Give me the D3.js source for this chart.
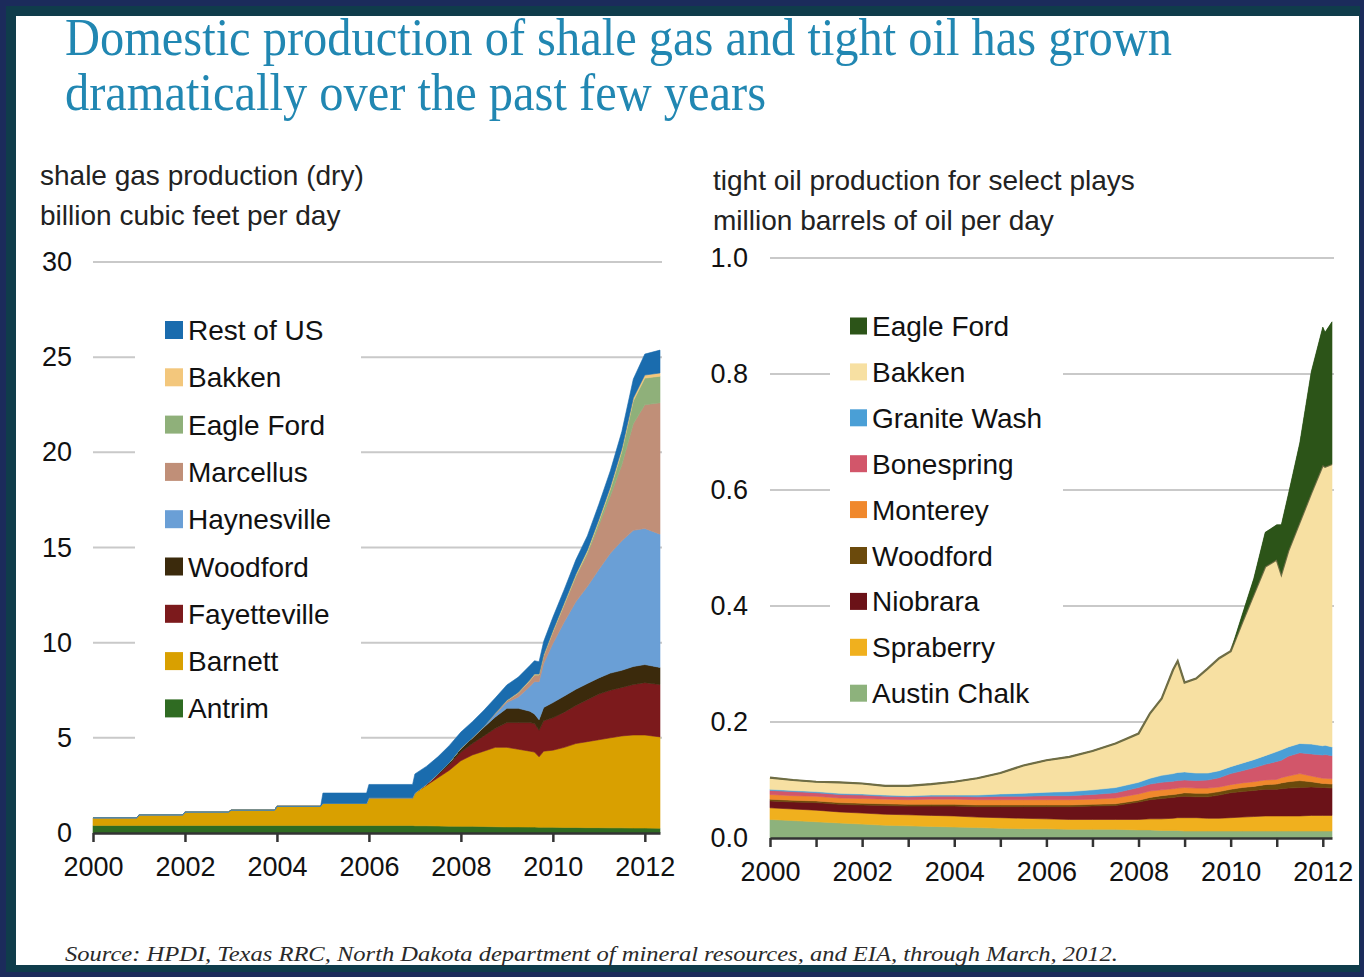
<!DOCTYPE html>
<html><head><meta charset="utf-8">
<script src="https://cdn.jsdelivr.net/npm/d3@7"></script>
<style>body{margin:0;background:#1b2b5b;} svg{display:block}</style>
</head><body><svg id="c" width="1364" height="977"></svg>
<script>
// ---------- Left chart: shale gas (bcf/d) ----------
const gasDates = [2000.0,2000.95,2001.0,2001.95,2002.0,2002.95,2003.0,2003.95,2004.0,2004.95,2005.0,2005.95,2006.0,2006.95,
  2007.0,2007.25,2007.5,2007.75,2008.0,2008.25,2008.5,2008.75,2009.0,2009.25,2009.5,2009.6,2009.7,2009.8,
  2010.0,2010.25,2010.5,2010.75,2011.0,2011.25,2011.5,2011.75,2012.0,2012.33];
const gasKeys = ["Antrim","Barnett","Fayetteville","Woodford","Haynesville","Marcellus","Eagle Ford","Bakken","Rest of US"];
const gasColors = ["#2f6b22","#d9a000","#7c1a1c","#3b2a0c","#6a9fd6","#c08f78","#8fb07a","#f3c77c","#1a6cae"];
const gasAntrim = [.40,.40,.40,.40,.40,.40,.40,.40,.40,.40,.40,.40,.40,.40,.38,.38,.37,.36,.35,.35,.34,.33,.32,.32,.31,.31,.30,.30,.30,.29,.29,.28,.28,.27,.27,.26,.26,.25];
const gasBarnett = [.40,.40,.55,.55,.70,.70,.80,.80,1.00,1.00,1.15,1.15,1.45,1.45,1.72,2.12,2.53,2.94,3.45,3.75,3.96,4.17,4.18,4.08,3.99,3.94,3.70,4.00,4.05,4.21,4.41,4.52,4.62,4.73,4.83,4.89,4.89,4.80];
const gasFayetteville = [0,0,0,0,0,0,0,0,0,0,0,0,0,0,0,.05,.15,.30,.45,.60,.80,1.0,1.3,1.4,1.5,1.5,1.4,1.6,1.7,1.85,2.0,2.2,2.4,2.5,2.55,2.65,2.75,2.75];
const gasWoodford = [0,0,0,0,0,0,0,0,0,0,0,0,0,0,0,0,.05,.10,.20,.30,.45,.60,.75,.75,.60,.50,.55,.70,.80,.85,.85,.85,.85,.90,.90,.95,.95,.90];
const gasHaynesville = [0,0,0,0,0,0,0,0,0,0,0,0,0,0,0,0,0,0,0,0,.05,.15,.30,.60,1.3,1.7,2.0,2.3,3.1,3.9,4.6,5.1,5.7,6.3,6.8,7.15,7.15,7.0];
const gasMarcellus = [0,0,0,0,0,0,0,0,0,0,0,0,0,0,0,0,0,0,0,0,0,.05,.10,.20,.30,.35,.35,.40,.60,.90,1.3,1.7,2.3,3.0,4.0,5.6,6.5,6.9];
const gasEagleFord = [0,0,0,0,0,0,0,0,0,0,0,0,0,0,0,0,0,0,0,0,0,0,0,0,0,0,0,0,0,.02,.05,.10,.20,.35,.70,1.2,1.4,1.4];
const gasBakken = [0,0,0,0,0,0,0,0,0,0,0,0,0,0,0,0,0,0,0,0,0,0,.03,.04,.05,.05,.05,.06,.08,.09,.10,.11,.12,.13,.14,.15,.16,.17];
const gasRest = [0,0,0,0,0,0,0,0,0,0,.55,.55,.70,.70,1.0,.95,.9,.9,.85,.85,.85,.8,.8,.8,.75,.7,.65,.7,.7,.7,.75,.75,.8,.85,.9,1.0,1.1,1.2];
const gasYTicks = [0,5,10,15,20,25,30];
const gasXTicks = [2000,2002,2004,2006,2008,2010,2012];

// ---------- Right chart: tight oil (million bbl/d) ----------
const oilDates = [2000.0,2000.5,2001.0,2001.5,2002.0,2002.5,2003.0,2003.5,2004.0,2004.5,2005.0,2005.5,2006.0,2006.5,2007.0,2007.5,
  2008.0,2008.25,2008.5,2008.75,2008.85,2009.0,2009.25,2009.5,2009.75,2010.0,2010.25,2010.5,2010.75,2011.0,2011.1,2011.25,2011.5,2011.75,2012.0,2012.05,2012.2];
const oilKeys = ["Austin Chalk","Spraberry","Niobrara","Woodford","Monterey","Bonespring","Granite Wash","Bakken","Eagle Ford"];
const oilColors = ["#8db27c","#f0b01e","#6b1218","#6b4a0c","#f0882c","#d2566a","#4a9fd6","#f7e0a2","#2c5418"];
const oilAustinChalk = [.032,.030,.028,.026,.024,.022,.021,.020,.019,.018,.017,.016,.016,.015,.015,.015,.014,.014,.013,.013,.013,.012,.012,.012,.012,.012,.012,.012,.012,.012,.012,.012,.012,.012,.012,.012,.012];
const oilSpraberry = [.020,.020,.020,.019,.019,.019,.019,.019,.019,.018,.018,.018,.017,.017,.017,.017,.018,.019,.020,.021,.022,.023,.023,.022,.022,.023,.024,.025,.026,.026,.026,.026,.026,.027,.027,.027,.027];
const oilNiobrara = [.012,.012,.013,.013,.014,.015,.015,.016,.017,.018,.019,.020,.021,.022,.023,.024,.030,.033,.035,.036,.036,.037,.036,.037,.040,.043,.044,.045,.046,.046,.047,.048,.049,.049,.048,.048,.047];
const oilWoodford = [.003,.003,.003,.003,.003,.003,.003,.003,.003,.003,.003,.003,.003,.003,.003,.003,.003,.004,.005,.005,.005,.006,.006,.006,.006,.006,.007,.007,.008,.009,.010,.011,.012,.009,.007,.007,.007];
const oilMonterey = [.008,.008,.008,.008,.008,.008,.008,.009,.009,.009,.009,.009,.009,.009,.009,.010,.011,.011,.010,.010,.010,.009,.009,.009,.008,.008,.008,.008,.008,.008,.009,.010,.012,.010,.009,.009,.009];
const oilBonespring = [.007,.007,.006,.006,.006,.005,.005,.005,.005,.005,.006,.006,.007,.007,.008,.009,.011,.012,.013,.013,.013,.013,.013,.014,.016,.019,.021,.024,.027,.031,.030,.034,.036,.038,.040,.041,.040];
const oilGraniteWash = [.002,.002,.002,.002,.002,.002,.002,.002,.002,.003,.004,.005,.006,.007,.008,.009,.009,.010,.012,.013,.014,.014,.013,.012,.012,.012,.013,.014,.015,.017,.018,.016,.016,.017,.016,.016,.015];
const oilBakken = [.020,.018,.017,.019,.018,.016,.017,.019,.023,.029,.036,.048,.055,.060,.067,.076,.084,.112,.132,.179,.192,.154,.163,.180,.194,.199,.243,.285,.326,.331,.303,.338,.382,.433,.484,.480,.488];
const oilEagleFord = [0,0,0,0,0,0,0,0,0,0,0,0,0,0,0,0,0,0,0,0,0,0,0,0,0,0,.013,.027,.059,.060,.085,.097,.136,.209,.238,.232,.245];
const oilYTicks = [0,0.2,0.4,0.6,0.8,1.0];
const oilXTicks = [2000,2001,2002,2003,2004,2005,2006,2007,2008,2009,2010,2011,2012];

const svg = d3.select("#c");
const FONT = "'Liberation Sans', Arial, sans-serif";

// frame
svg.append("rect").attr("width",1364).attr("height",977).attr("fill","#1b2b5b");
svg.append("rect").attr("x",6).attr("y",6).attr("width",1354).attr("height",966).attr("fill","#0f3c4b");
svg.append("rect").attr("x",16).attr("y",16).attr("width",1343).attr("height",949).attr("fill","#ffffff");

// title
const titleLines = ["Domestic production of shale gas and tight oil has grown","dramatically over the past few years"];
const titleW = [1107, 701];
titleLines.forEach((t,i)=>{
  svg.append("text").attr("x",65).attr("y",55+i*55).text(t)
    .attr("font-family","'Liberation Serif','Times New Roman',serif").attr("font-size",52)
    .attr("fill","#2187b2").attr("textLength",titleW[i]).attr("lengthAdjust","spacingAndGlyphs");
});

// source
svg.append("text").attr("x",65).attr("y",961)
  .text("Source:  HPDI, Texas RRC, North Dakota department of mineral resources, and EIA, through March, 2012.")
  .attr("font-family","'Liberation Serif','Times New Roman',serif").attr("font-style","italic").attr("font-size",21)
  .attr("fill","#2a2a2a").attr("textLength",1053).attr("lengthAdjust","spacingAndGlyphs");

function drawChart(cfg){
  const g = svg.append("g");
  const x = d3.scaleLinear().domain([2000, cfg.dates[cfg.dates.length-1]]).range(cfg.xr);
  const y = d3.scaleLinear().domain(cfg.ydom).range(cfg.yr);
  const rows = cfg.dates.map((d,i)=>{ const o={date:d}; cfg.keys.forEach((k,j)=>o[k]=cfg.values[j][i]); return o; });
  const stacked = d3.stack().keys(cfg.keys)(rows);
  const color = d3.scaleOrdinal().domain(cfg.keys).range(cfg.colors);

  // axis titles
  cfg.titles.forEach((t,i)=>{
    g.append("text").attr("x",cfg.titleX).attr("y",cfg.titleY+i*40).text(t)
      .attr("font-family",FONT).attr("font-size",28).attr("fill","#222");
  });

  // grid
  g.append("g").selectAll("line").data(cfg.yticks.filter(v=>v>0)).join("line")
    .attr("x1",cfg.xr[0]).attr("x2",cfg.xr[1]+2).attr("y1",d=>y(d)).attr("y2",d=>y(d))
    .attr("stroke","#c9c9c9").attr("stroke-width",2);

  // legend background (covers grid)
  g.append("rect").attr("x",cfg.leg.box[0]).attr("y",cfg.leg.box[1]).attr("width",cfg.leg.box[2]).attr("height",cfg.leg.box[3]).attr("fill","#fff");

  // areas
  const area = d3.area().x(d=>x(d.data.date)).y0(d=>y(d[0])).y1(d=>y(d[1]));
  g.append("g").selectAll("path").data(stacked).join("path")
    .attr("d",area).attr("fill",d=>color(d.key)).attr("stroke",d=>color(d.key)).attr("stroke-width",0.6);

  if(cfg.outlineKey){
    const s = stacked.find(d=>d.key===cfg.outlineKey);
    g.append("path").datum(s).attr("fill","none").attr("stroke","#6f6d45").attr("stroke-width",2.2)
      .attr("d",d3.line().x(d=>x(d.data.date)).y(d=>y(d[1])));
    const top = stacked.find(d=>d.key===cfg.overKey);
    g.append("path").datum(top).attr("d",area).attr("fill",color(cfg.overKey));
  }

  // y axis labels
  const ya = d3.axisLeft(y).tickValues(cfg.yticks).tickFormat(cfg.yfmt).tickSize(0).tickPadding(cfg.ypad);
  const yg = g.append("g").attr("transform",`translate(${cfg.xr[0]},0)`).call(ya);
  yg.select(".domain").remove();
  yg.selectAll("text").attr("font-family",FONT).attr("font-size",27).attr("fill","#111");

  // x axis
  const xa = d3.axisBottom(x).tickValues(cfg.xticks).tickFormat(d=>d%2===0?String(d):"").tickSize(9).tickSizeOuter(0).tickPadding(15);
  const xg = g.append("g").attr("transform",`translate(0,${cfg.yr[0]})`).call(xa);
  xg.select(".domain").attr("stroke","#333").attr("stroke-width",2.5);
  xg.selectAll(".tick line").attr("stroke","#333").attr("stroke-width",2.5);
  xg.selectAll("text").attr("font-family",FONT).attr("font-size",27).attr("fill","#111");

  // legend
  const items = cfg.keys.slice().reverse();
  const lg = g.append("g").selectAll("g").data(items).join("g")
    .attr("transform",(d,i)=>`translate(${cfg.leg.x},${cfg.leg.y0+i*cfg.leg.dy})`);
  lg.append("rect").attr("x",0).attr("y",-cfg.leg.sq/2).attr("width",cfg.leg.sq).attr("height",cfg.leg.sq).attr("fill",d=>color(d));
  lg.append("text").attr("x",cfg.leg.sq+5).attr("y",10).text(d=>d)
    .attr("font-family",FONT).attr("font-size",28).attr("fill","#111");
}

drawChart({
  dates: gasDates, keys: gasKeys, colors: gasColors,
  values: [gasAntrim,gasBarnett,gasFayetteville,gasWoodford,gasHaynesville,gasMarcellus,gasEagleFord,gasBakken,gasRest],
  xr:[93,660], ydom:[0,30], yr:[833,262], yticks: gasYTicks, xticks: gasXTicks, yfmt: d3.format("d"), ypad: 21,
  titles:["shale gas production (dry)","billion cubic feet per day"], titleX:40, titleY:185,
  leg:{box:[135,305,226,442], x:165, y0:330, dy:47.3, sq:18}
});

drawChart({
  dates: oilDates, keys: oilKeys, colors: oilColors,
  values: [oilAustinChalk,oilSpraberry,oilNiobrara,oilWoodford,oilMonterey,oilBonespring,oilGraniteWash,oilBakken,oilEagleFord],
  xr:[770,1332], ydom:[0,1], yr:[838,258], yticks: oilYTicks, xticks: oilXTicks, yfmt: d3.format(".1f"), ypad: 22,
  titles:["tight oil production for select plays","million barrels of oil per day"], titleX:713, titleY:190,
  leg:{box:[830,305,233,410], x:850, y0:326, dy:45.9, sq:17},
  outlineKey:"Bakken", overKey:"Eagle Ford"
});
</script></body></html>
